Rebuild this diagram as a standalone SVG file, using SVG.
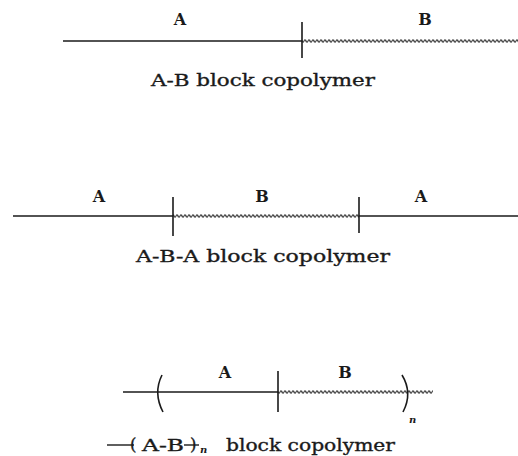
<svg xmlns="http://www.w3.org/2000/svg" width="518" height="456" viewBox="0 0 518 456">
<style>
.ln{stroke:#1a1a1a;stroke-width:1.4;fill:none}
.tk{stroke:#1a1a1a;stroke-width:1.6;fill:none}
.t{font-family:"DejaVu Serif","Liberation Serif",serif;font-weight:bold;font-size:16px;fill:#1a1a1a}
.c{font-family:"DejaVu Serif","Liberation Serif",serif;font-size:16.5px;fill:#1a1a1a;stroke:#1a1a1a;stroke-width:0.35}
.n{font-family:"DejaVu Serif","Liberation Serif",serif;font-style:italic;font-weight:bold;font-size:10px;fill:#1a1a1a}
</style>
<defs>
<pattern id="wave" patternUnits="userSpaceOnUse" x="0" y="0" width="4" height="5">
<path d="M0,2.5 Q1,0.6 2,2.5 T4,2.5" stroke="#1a1a1a" stroke-width="1.3" fill="none"/>
</pattern>
</defs>
<g id="connectors">
<line class="ln" x1="63" y1="41" x2="302" y2="41"/>
<g transform="translate(0,38.5)"><rect x="302" y="0" width="216" height="5" fill="url(#wave)"/></g>
<line class="ln" x1="13" y1="216" x2="173" y2="216"/>
<g transform="translate(0,213.5)"><rect x="173" y="0" width="186" height="5" fill="url(#wave)"/></g>
<line class="ln" x1="359" y1="216" x2="518" y2="216"/>
<line class="ln" x1="123" y1="392" x2="278" y2="392"/>
<g transform="translate(0,389.5)"><rect x="278" y="0" width="155" height="5" fill="url(#wave)"/></g>
</g>
<g id="ab">
<line class="tk" x1="302" y1="22" x2="302" y2="58"/>
<text class="t" x="180" y="25" text-anchor="middle">A</text>
<text class="t" x="425" y="25" text-anchor="middle">B</text>
<text class="c" x="151" y="86" textLength="224" lengthAdjust="spacingAndGlyphs">A-B block copolymer</text>
</g>
<g id="aba">
<line class="tk" x1="173" y1="197" x2="173" y2="236"/>
<line class="tk" x1="359" y1="197" x2="359" y2="233"/>
<text class="t" x="99" y="202" text-anchor="middle">A</text>
<text class="t" x="262" y="202" text-anchor="middle">B</text>
<text class="t" x="421" y="202" text-anchor="middle">A</text>
<text class="c" x="136" y="262" textLength="254" lengthAdjust="spacingAndGlyphs">A-B-A block copolymer</text>
</g>
<g id="abn">
<path class="tk" d="M162,375 Q153,393 163,412"/>
<path class="tk" d="M402,375 Q413,393 403,412"/>
<line class="tk" x1="278" y1="371" x2="278" y2="412"/>
<text class="t" x="225" y="378" text-anchor="middle">A</text>
<text class="t" x="345" y="378" text-anchor="middle">B</text>
<text class="n" x="409" y="423">n</text>
<line class="ln" x1="107" y1="445" x2="134" y2="445"/>
<text class="c" x="130" y="450">(</text>
<text class="c" x="142" y="451" textLength="42" lengthAdjust="spacingAndGlyphs">A-B</text>
<line class="ln" x1="184" y1="445" x2="199" y2="445"/>
<text class="c" x="190" y="450">)</text>
<text class="n" x="200" y="453">n</text>
<text class="c" x="226" y="451" textLength="169" lengthAdjust="spacingAndGlyphs">block copolymer</text>
</g>
</svg>
